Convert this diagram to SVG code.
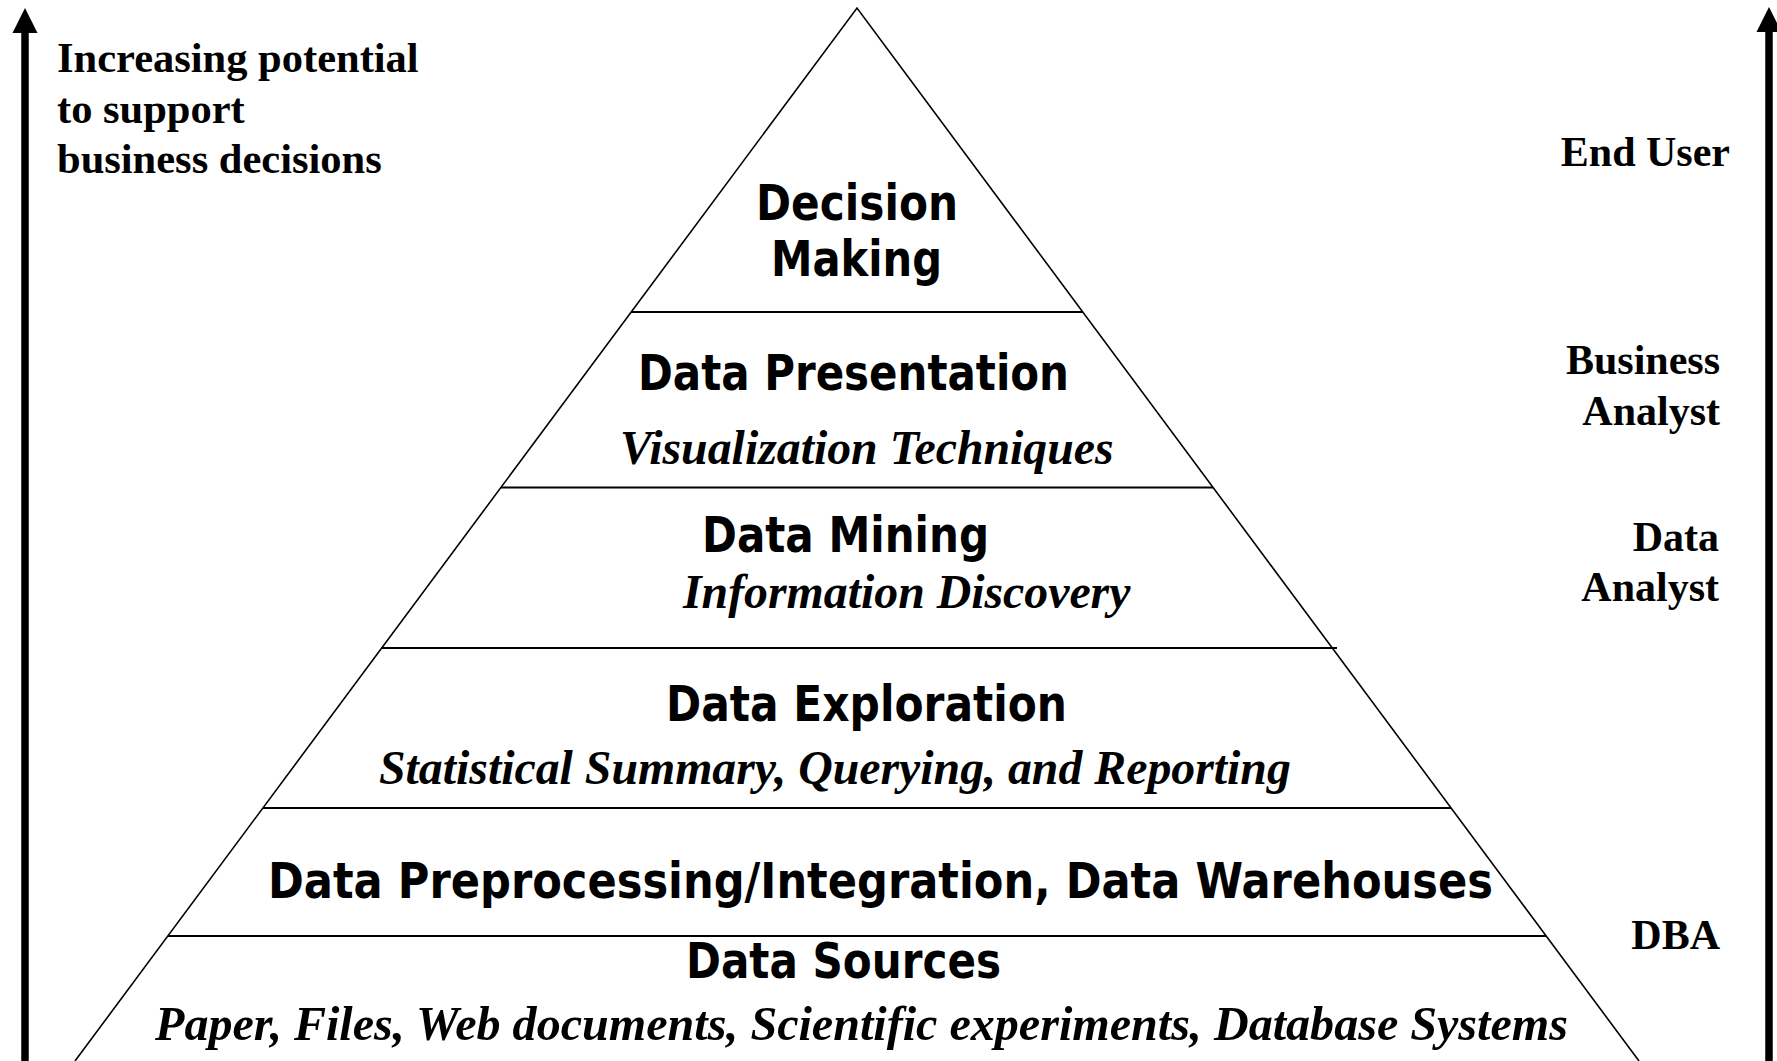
<svg xmlns="http://www.w3.org/2000/svg" width="1777" height="1061" viewBox="0 0 1777 1061">
<style>
.side{stroke:#000;stroke-width:1.6;fill:none}
.tier{stroke:#000;stroke-width:2.2;fill:none}
.ttl{font-family:"DejaVu Sans",Verdana,sans-serif;font-weight:bold;font-size:50px;fill:#000}
.sub{font-family:"Liberation Serif","Times New Roman",serif;font-weight:bold;font-style:italic;font-size:47.8px;fill:#000}
.lbl{font-family:"Liberation Serif","Times New Roman",serif;font-weight:bold;font-size:42px;fill:#000}
.axis{stroke:#000;stroke-width:7.5;fill:none}
</style>
<rect width="1777" height="1061" fill="#fff"/>
<g id="axes">
<line class="axis" x1="25" y1="30" x2="25" y2="1061"/>
<polygon points="25,8 12.5,33 37.5,33" fill="#000"/>
<line class="axis" x1="1769" y1="30" x2="1769" y2="1061"/>
<polygon points="1769,7 1756.5,32 1781.5,32" fill="#000"/>
</g>
<g id="connectors">
<polyline class="side" points="75,1061 857,8 1639,1061"/>
<line class="tier" x1="631" y1="312" x2="1083" y2="312"/>
<line class="tier" x1="501" y1="487.5" x2="1213" y2="487.5"/>
<line class="tier" x1="381" y1="648" x2="1337" y2="648"/>
<line class="tier" x1="263" y1="808" x2="1451" y2="808"/>
<line class="tier" x1="168" y1="936" x2="1546" y2="936"/>
</g>
<g id="decision-making">
<text class="ttl" x="756" y="220" textLength="202" lengthAdjust="spacingAndGlyphs">Decision</text>
<text class="ttl" x="771" y="276" textLength="171" lengthAdjust="spacingAndGlyphs">Making</text>
</g>
<g id="data-presentation">
<text class="ttl" x="638" y="390" textLength="431" lengthAdjust="spacingAndGlyphs">Data Presentation</text>
<text class="sub" x="620" y="464">Visualization Techniques</text>
</g>
<g id="data-mining">
<text class="ttl" x="702" y="552" textLength="287" lengthAdjust="spacingAndGlyphs">Data Mining</text>
<text class="sub" x="683" y="608">Information Discovery</text>
</g>
<g id="data-exploration">
<text class="ttl" x="666" y="721" textLength="401" lengthAdjust="spacingAndGlyphs">Data Exploration</text>
<text class="sub" x="379" y="784">Statistical Summary, Querying, and Reporting</text>
</g>
<g id="data-preprocessing">
<text class="ttl" x="268" y="898" textLength="1225" lengthAdjust="spacingAndGlyphs">Data Preprocessing/Integration, Data Warehouses</text>
</g>
<g id="data-sources">
<text class="ttl" x="686" y="978" textLength="315" lengthAdjust="spacingAndGlyphs">Data Sources</text>
<text class="sub" x="155" y="1040" style="font-size:48.1px">Paper, Files, Web documents, Scientific experiments, Database Systems</text>
</g>
<g id="potential-label">
<text class="lbl" x="57" y="72" style="font-size:42.5px">Increasing potential</text>
<text class="lbl" x="57" y="122.5" style="font-size:42.5px">to support</text>
<text class="lbl" x="57" y="173" style="font-size:42.5px">business decisions</text>
</g>
<g id="roles">
<text class="lbl" x="1730" y="166" text-anchor="end">End User</text>
<text class="lbl" x="1720" y="374" text-anchor="end">Business</text>
<text class="lbl" x="1720" y="425" text-anchor="end">Analyst</text>
<text class="lbl" x="1719" y="551" text-anchor="end">Data</text>
<text class="lbl" x="1719" y="601" text-anchor="end">Analyst</text>
<text class="lbl" x="1720" y="949" text-anchor="end">DBA</text>
</g>
</svg>
